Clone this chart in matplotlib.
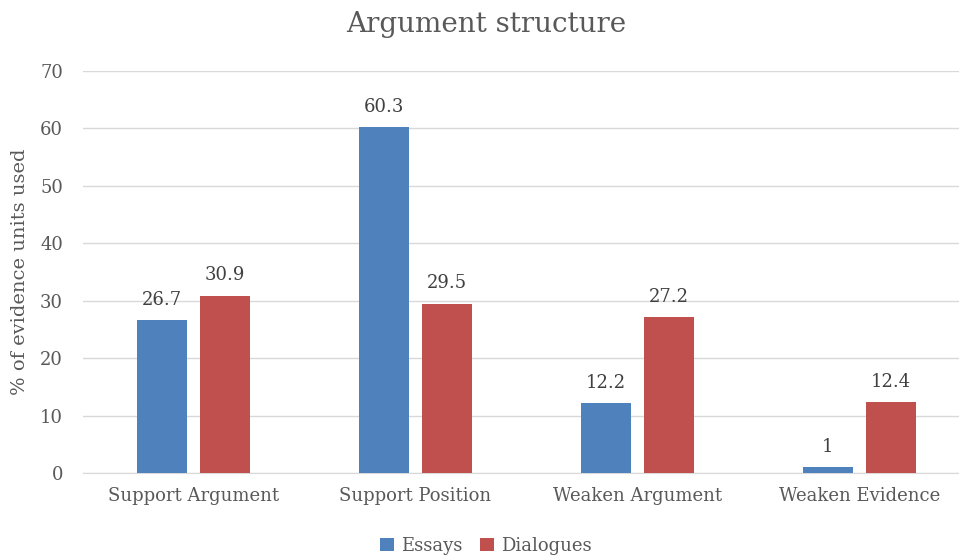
import matplotlib.pyplot as plt
import numpy as np

categories = ['Support Argument', 'Support Position', 'Weaken Argument', 'Weaken Evidence']
essays = [26.7, 60.3, 12.2, 1]
dialogues = [30.9, 29.5, 27.2, 12.4]

blue = '#4F81BD'
red = '#C0504D'
text_col = '#595959'
grid_col = '#D9D9D9'

plt.rcParams['font.family'] = ['DejaVu Serif']

fig = plt.figure(figsize=(9.59, 5.55), dpi=100)
ax = fig.add_axes([82.5 / 959, 82 / 555, 888 / 959, 402 / 555])

x = np.arange(len(categories))
w = 0.225
off = 0.142
b1 = ax.bar(x - off, essays, w, color=blue, label='Essays', zorder=3)
b2 = ax.bar(x + off, dialogues, w, color=red, label='Dialogues', zorder=3)

for bars, vals in ((b1, essays), (b2, dialogues)):
    for rect, v in zip(bars, vals):
        ax.annotate(f'{v:g}', (rect.get_x() + rect.get_width() / 2, v),
                    xytext=(0, 8), textcoords='offset points',
                    ha='center', va='bottom', fontsize=13, color='#404040')

ax.set_xlim(-0.5, 3.5)
ax.set_ylim(0, 70)
ax.set_yticks(range(0, 71, 10))
ax.set_xticks(x)
ax.set_xticklabels(categories)
ax.tick_params(axis='both', length=0, labelsize=13, colors=text_col)
ax.tick_params(axis='y', pad=14)
ax.tick_params(axis='x', pad=10)
ax.grid(axis='y', color=grid_col, linewidth=1, zorder=0)
for s in ['top', 'right', 'left']:
    ax.spines[s].set_visible(False)
ax.spines['bottom'].set_color(grid_col)

ax.set_ylabel('% of evidence units used', fontsize=14, color=text_col, labelpad=8)
fig.text(486 / 959, 1 - 24 / 555, 'Argument structure', ha='center', va='center',
         fontsize=20, color=text_col)

fig.legend(loc='center', bbox_to_anchor=(486 / 959, 1 - 546 / 555), ncol=2,
           frameon=False, fontsize=13, labelcolor=text_col, handlelength=0.75,
           handleheight=0.75, columnspacing=1.0, handletextpad=0.4)

fig.savefig('out.png', dpi=100)
